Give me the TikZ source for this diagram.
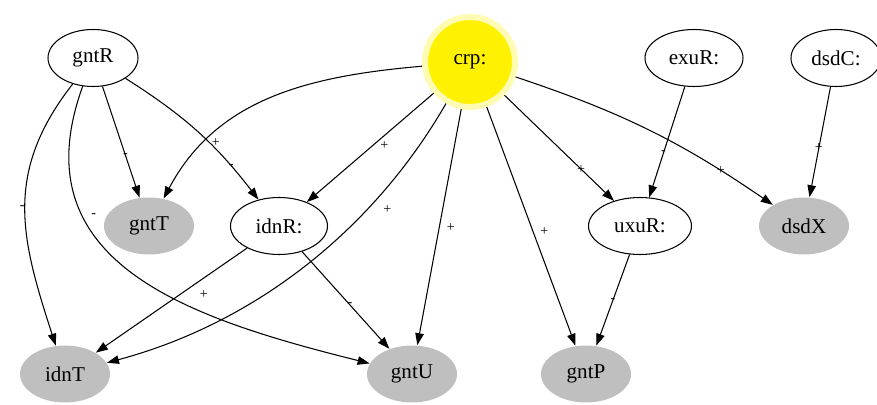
\documentclass[tikz,border=0pt]{standalone}
\usepackage{fontspec}
\setmainfont{Liberation Serif}
\usetikzlibrary{arrows.meta, shapes.geometric}

\begin{document}
\begin{tikzpicture}[
		x=0.2mm, y=-0.2mm,
		every node/.style={font=\fontsize{12}{14}\selectfont},
		regnode/.style={ellipse, draw, fill=white, minimum width=18mm, minimum height=11.4mm, inner sep=0pt},
		genenode/.style={ellipse, fill=gray!50, minimum width=18mm, minimum height=11.4mm, inner sep=0pt},
		hubnode/.style={circle, fill=yellow, draw=yellow!30, line width=1.2mm, minimum size=18mm},
		sign/.style={font=\fontsize{8}{9}\selectfont, inner sep=1pt},
		->, >={Triangle[length=2.4mm, width=1.7mm]}, line width=0.6pt, black
		]
	\useasboundingbox (0,0) rectangle (877,405);
	
		% Regulators
		\node[regnode] at (93,58) (gntR) {gntR};
		\node[hubnode] at (470,62) (crp) {crp:};
		\node[regnode, minimum width=19.6mm] at (694,58) (exuR) {exuR:};
		\node[regnode] at (836,58) (dsdC) {dsdC:};
		\node[regnode, minimum width=19.4mm] at (279,226) (idnR) {idnR:};
		\node[regnode, minimum width=20.6mm] at (640,226) (uxuR) {uxuR:};
		% Targets
		\node[genenode] at (149,226) (gntT) {gntT};
		\node[genenode] at (804,226) (dsdX) {dsdX};
		\node[genenode] at (65,374) (idnT) {idnT};
		\node[genenode] at (412,374) (gntU) {gntU};
		\node[genenode] at (586,374) (gntP) {gntP};
		
		% Edges from gntR
		\draw (gntR) -- node[sign, pos=0.62] {-} (gntT);
		\draw (gntR) to[bend left=10] node[sign, pos=0.78] {-} (idnR);
		\draw (gntR) to[out=232, in=108, looseness=1.1] node[sign, pos=0.5, left=-1pt] {-} (idnT);
		\draw (gntR) to[out=250, in=166, looseness=1.2] node[sign, pos=0.3, right=4pt] {-} (gntU);
		% Edges from crp
		\draw (crp) to[out=185, in=62] node[sign, pos=0.78, right=3pt] {+} (gntT);
		\draw (crp) -- node[sign, pos=0.48, right=3pt] {+} (idnR);
		\draw (crp) to[out=240, in=15, looseness=0.9] node[sign, pos=0.3, right=8pt] {+} (idnT);
		\draw (crp) -- node[sign, pos=0.5, right=3pt] {+} (gntU);
		\draw (crp) -- node[sign, pos=0.52, right=3pt] {+} (gntP);
		\draw (crp) -- node[sign, pos=0.7] {+} (uxuR);
		\draw (crp) to[bend left=8] node[sign, pos=0.8] {+} (dsdX);
		% Other edges
		\draw (exuR) -- node[sign, pos=0.6] {-} (uxuR);
		\draw (dsdC) -- node[sign, pos=0.55] {+} (dsdX);
		\draw (idnR) -- node[sign, pos=0.35, below right=2pt] {+} (idnT);
		\draw (idnR) -- node[sign, pos=0.55] {-} (gntU);
		\draw (uxuR) -- node[sign, pos=0.5] {-} (gntP);
		
	\end{tikzpicture}
\end{document}
